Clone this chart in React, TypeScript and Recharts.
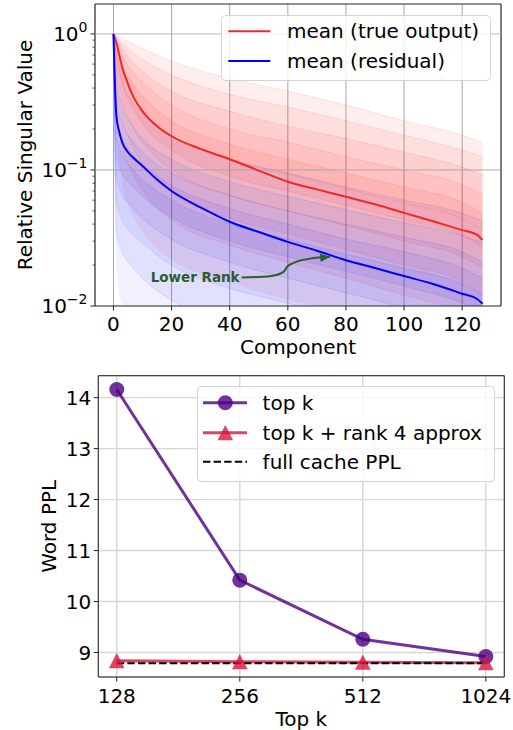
import {
  ComposedChart, Line, Area, XAxis, YAxis, CartesianGrid,
  ReferenceLine, ReferenceArea, Legend,
} from 'recharts'

// ---- top panel: relative singular values (log scale) ----
const components = [0, 1, 2, 3, 5, 7, 10, 15, 20, 30, 40, 50, 60, 70, 80, 90, 100, 110, 120, 125, 127]
const meanTrueOutput = [1, 0.86, 0.7, 0.57, 0.43, 0.34, 0.27, 0.21, 0.177, 0.143, 0.12, 0.099, 0.082, 0.072, 0.0636, 0.056, 0.0484, 0.042, 0.0361, 0.0335, 0.0305]
const meanResidual = [1, 0.25, 0.19, 0.16, 0.135, 0.122, 0.107, 0.085, 0.07, 0.053, 0.0416, 0.035, 0.0296, 0.0255, 0.0217, 0.019, 0.0166, 0.0145, 0.0123, 0.0113, 0.0104]

const sampleX = [0, 1, 3, 6, 10, 20, 40, 60, 80, 100, 120, 127]
const trueOutputSamples = [
  [1, 0.98, 0.93, 0.86, 0.78, 0.63, 0.47, 0.38, 0.3, 0.23, 0.18, 0.16],
  [1, 0.96, 0.86, 0.75, 0.65, 0.5, 0.36, 0.29, 0.23, 0.18, 0.14, 0.125],
  [1, 0.93, 0.78, 0.64, 0.53, 0.38, 0.27, 0.21, 0.17, 0.135, 0.105, 0.092],
  [1, 0.9, 0.7, 0.55, 0.44, 0.3, 0.2, 0.16, 0.125, 0.1, 0.078, 0.066],
  [1, 0.86, 0.6, 0.45, 0.35, 0.23, 0.155, 0.12, 0.095, 0.075, 0.058, 0.048],
  [1, 0.8, 0.52, 0.37, 0.28, 0.18, 0.12, 0.093, 0.073, 0.057, 0.044, 0.036],
  [1, 0.72, 0.43, 0.3, 0.22, 0.14, 0.09, 0.07, 0.055, 0.043, 0.033, 0.027],
  [1, 0.6, 0.33, 0.22, 0.16, 0.1, 0.065, 0.05, 0.039, 0.03, 0.023, 0.019],
  [1, 0.45, 0.24, 0.16, 0.11, 0.068, 0.044, 0.034, 0.026, 0.02, 0.015, 0.012],
  [1, 0.3, 0.15, 0.1, 0.07, 0.043, 0.028, 0.021, 0.016, 0.012, 0.009, 0.0075],
]
const residualSamples = [
  [1, 0.7, 0.45, 0.33, 0.26, 0.18, 0.12, 0.095, 0.075, 0.06, 0.048, 0.042],
  [1, 0.5, 0.3, 0.22, 0.17, 0.12, 0.082, 0.064, 0.051, 0.041, 0.033, 0.029],
  [1, 0.35, 0.22, 0.17, 0.135, 0.095, 0.065, 0.05, 0.04, 0.032, 0.025, 0.021],
  [1, 0.25, 0.17, 0.135, 0.11, 0.077, 0.052, 0.04, 0.031, 0.025, 0.019, 0.016],
  [1, 0.18, 0.13, 0.105, 0.085, 0.06, 0.04, 0.031, 0.024, 0.019, 0.0145, 0.012],
  [1, 0.13, 0.095, 0.078, 0.064, 0.045, 0.03, 0.023, 0.018, 0.014, 0.0105, 0.009],
  [1, 0.09, 0.066, 0.054, 0.044, 0.031, 0.021, 0.016, 0.0125, 0.0097, 0.0073, 0.006],
  [1, 0.06, 0.043, 0.035, 0.029, 0.02, 0.0135, 0.0105, 0.008, 0.0062, 0.0047, 0.0039],
  [1, 0.035, 0.025, 0.02, 0.016, 0.011, 0.0075, 0.0058, 0.0045, 0.0035, 0.0027, 0.0022],
]
// lower edges of the two bundles (both run off the bottom of the axes)
const trueOutputLow = [1, 0.2, 0.08, 0.05, 0.035, 0.022, 0.015, 0.011, 0.009, 0.007, 0.005, 0.004]
const residualLow = [1, 0.02, 0.01, 0.008, 0.006, 0.004, 0.003, 0.002, 0.002, 0.002, 0.002, 0.002]

// "Lower Rank" arrow path
const arrowX = [44.1, 53.9, 58.5, 59.7, 61.9, 67.7, 74.6]
const arrowY = [0.0162, 0.01656, 0.0178, 0.0194, 0.0207, 0.0223, 0.023]

// ---- bottom panel: word perplexity vs top k ----
const topKLabels = ['128', '256', '512', '1024']
const pplTopK = [14.16, 10.42, 9.26, 8.92]
const pplRank4 = [8.84, 8.82, 8.81, 8.8]
const pplFullCache = 8.79

const logTicks = [0.01, 0.02, 0.03, 0.04, 0.05, 0.06, 0.07, 0.08, 0.09, 0.1, 0.2, 0.3, 0.4, 0.5, 0.6, 0.7, 0.8, 0.9, 1]

// nested shading bands: outermost pair first, closing in toward the middle of each bundle
const trueBundle = [trueOutputLow, ...[...trueOutputSamples].reverse()]
const resBundle = [residualLow, ...[...residualSamples].reverse()]
const trueBands = trueOutputSamples.slice(0, 5).map((hi, k) => [trueBundle[k], hi])
const resBands = residualSamples.slice(0, 5).map((hi, k) => [resBundle[k], hi])

const allX = Array.from(new Set([...components, ...sampleX])).sort((a, b) => a - b)
const svRows = allX.map((x) => {
  const row: Record<string, any> = { x }
  const ci = components.indexOf(x)
  if (ci >= 0) {
    row.trueMean = meanTrueOutput[ci]
    row.resMean = meanResidual[ci]
  }
  const si = sampleX.indexOf(x)
  if (si >= 0) {
    trueOutputSamples.forEach((s, k) => { row[`t${k}`] = s[si] })
    residualSamples.forEach((s, k) => { row[`r${k}`] = s[si] })
    trueBands.forEach(([lo, hi], k) => { row[`tb${k}`] = [lo[si], hi[si]] })
    resBands.forEach(([lo, hi], k) => { row[`rb${k}`] = [lo[si], hi[si]] })
  }
  return row
})
const arrowRows = arrowX.map((x, i) => ({ x, arrow: arrowY[i] }))

const pplRows = topKLabels.map((_, i) => ({
  i, topk: pplTopK[i], rank4: pplRank4[i], full: pplFullCache,
}))

const INK = '#222'
const FONT = 20

function LogYTick(props: any) {
  const { x, y, payload } = props
  const lg = Math.log10(payload.value)
  const exp = Math.round(lg)
  const major = Math.abs(lg - exp) < 1e-6
  return (
    <g>
      <line x1={x - (major ? 4.5 : 2.6)} x2={x} y1={y} y2={y} stroke={INK} strokeWidth={major ? 1 : 0.7} />
      {major && (
        <text x={x - 7.5} y={y + 7} textAnchor="end" fontSize={FONT} fill="#000">
          10<tspan dy={-9} fontSize={14}>{exp === 0 ? '0' : '\u2212' + Math.abs(exp)}</tspan>
        </text>
      )}
    </g>
  )
}

function makeXTick(fmt: (v: number) => string, dy: number) {
  return (props: any) => {
    const { x, y, payload } = props
    return (
      <g>
        <line x1={x} x2={x} y1={y} y2={y + 4.5} stroke={INK} strokeWidth={1} />
        <text x={x} y={y + dy} textAnchor="middle" fontSize={FONT} fill="#000">{fmt(payload.value)}</text>
      </g>
    )
  }
}

function PlainYTick(props: any) {
  const { x, y, payload } = props
  return (
    <g>
      <line x1={x - 4.5} x2={x} y1={y} y2={y} stroke={INK} strokeWidth={1} />
      <text x={x - 7} y={y + 7.2} textAnchor="end" fontSize={FONT} fill="#000">{payload.value}</text>
    </g>
  )
}

const xLabel = (text: string, dy: number) => (props: any) => {
  const vb = props.viewBox
  return (
    <text x={vb.x + vb.width / 2} y={vb.y + dy} textAnchor="middle" fontSize={FONT} fill="#000">{text}</text>
  )
}
const yLabel = (text: string, bx: number) => (props: any) => {
  const vb = props.viewBox
  const cy = vb.y + vb.height / 2
  return (
    <text x={bx} y={cy} transform={`rotate(-90 ${bx} ${cy})`} textAnchor="middle" fontSize={FONT} fill="#000">{text}</text>
  )
}

function ArrowDot(props: any) {
  const { cx, cy, index } = props
  if (index === 0) {
    return (
      <text key="lbl" x={cx - 2} y={cy + 5} textAnchor="end" fontSize={13.5} fontWeight="bold" fill="#2e5c2e">Lower Rank</text>
    )
  }
  if (index === arrowX.length - 1) {
    return (
      <polygon key="head" points="0,0 -10,-4.2 -10,4.2" fill="#2e5c2e" transform={`translate(${cx},${cy}) rotate(-6)`} />
    )
  }
  return <g key={index} />
}

function TopLegendBox() {
  return (
    <svg width={270} height={66} style={{ display: 'block' }}>
      <rect x={0.5} y={0.5} width={269} height={65} rx={4} fill="#fff" fillOpacity={0.8} stroke="#d3d3d3" />
      <line x1={7.3} x2={49.3} y1={16.3} y2={16.3} stroke="#f02828" strokeWidth={2} />
      <text x={66} y={23.3} fontSize={FONT} fill="#000">mean (true output)</text>
      <line x1={7.3} x2={49.3} y1={46} y2={46} stroke="#0000ff" strokeWidth={2} />
      <text x={66} y={53} fontSize={FONT} fill="#000">mean (residual)</text>
    </svg>
  )
}

function BottomLegendBox() {
  return (
    <svg width={299} height={96} style={{ display: 'block' }}>
      <rect x={0.5} y={0.5} width={297} height={95} rx={4} fill="#fff" fillOpacity={0.8} stroke="#d3d3d3" />
      <line x1={6} x2={50} y1={16.7} y2={16.7} stroke="#4b0082" strokeOpacity={0.8} strokeWidth={3} />
      <circle cx={28.3} cy={16.7} r={7.5} fill="#4b0082" fillOpacity={0.8} />
      <text x={65.6} y={23.7} fontSize={FONT} fill="#000">top k</text>
      <line x1={6} x2={50} y1={46.7} y2={46.7} stroke="#dc143c" strokeOpacity={0.8} strokeWidth={3} />
      <polygon points={`28.3,39 20.5,54.2 36.1,54.2`} fill="#dc143c" fillOpacity={0.8} />
      <text x={65.6} y={53.7} fontSize={FONT} fill="#000">top k + rank 4 approx</text>
      <line x1={6} x2={50} y1={75.7} y2={75.7} stroke="#000" strokeWidth={2} strokeDasharray="7.4 3.2" />
      <text x={65.6} y={82.7} fontSize={FONT} fill="#000">full cache PPL</text>
    </svg>
  )
}

function CircleDot(props: any) {
  const { cx, cy, index } = props
  return <circle key={index} cx={cx} cy={cy} r={7.5} fill="#4b0082" fillOpacity={0.8} />
}
function TriangleDot(props: any) {
  const { cx, cy, index } = props
  return (
    <polygon key={index} points={`${cx},${cy - 7.6} ${cx - 7.8},${cy + 7.6} ${cx + 7.8},${cy + 7.6}`} fill="#dc143c" fillOpacity={0.8} />
  )
}

export default function App() {
  return (
    <div style={{ position: 'absolute', left: 0, top: 0, width: 513, height: 730, background: '#fff', fontFamily: '"DejaVu Sans", sans-serif' }}>
      <div style={{ position: 'absolute', left: 0, top: 0 }}>
        <ComposedChart width={513} height={365} data={svRows} margin={{ top: 4, right: 12, bottom: 0, left: 0 }}>
          <XAxis
            type="number" dataKey="x" domain={[-6.35, 133.35]} ticks={[0, 20, 40, 60, 80, 100, 120]}
            allowDataOverflow interval={0} height={59} axisLine={false} tickLine={false} tickSize={0} tickMargin={0}
            tick={makeXTick((v) => String(v), 25)} label={{ content: xLabel('Component', 48) }}
          />
          <YAxis
            type="number" scale="log" domain={[0.01, 1.66]} ticks={logTicks} allowDataOverflow interval={0}
            width={95} axisLine={false} tickLine={false} tickSize={0} tickMargin={0}
            tick={<LogYTick />} label={{ content: yLabel('Relative Singular Value', 32) }}
          />
          {trueBands.map((_, k) => (
            <Area key={`tb${k}`} dataKey={`tb${k}`} type="monotone" connectNulls stroke="none" fill="#ff0000" fillOpacity={0.065} isAnimationActive={false} />
          ))}
          {resBands.map((_, k) => (
            <Area key={`rb${k}`} dataKey={`rb${k}`} type="monotone" connectNulls stroke="none" fill="#0000ff" fillOpacity={0.06} isAnimationActive={false} />
          ))}
          {trueOutputSamples.map((_, k) => (
            <Line key={`t${k}`} dataKey={`t${k}`} type="monotone" connectNulls stroke="#ff0000" strokeOpacity={0.14} strokeWidth={0.7} dot={false} isAnimationActive={false} />
          ))}
          {residualSamples.map((_, k) => (
            <Line key={`r${k}`} dataKey={`r${k}`} type="monotone" connectNulls stroke="#0000ff" strokeOpacity={0.14} strokeWidth={0.7} dot={false} isAnimationActive={false} />
          ))}
          <CartesianGrid horizontal={false} stroke="#a8a8a8" strokeWidth={1} />
          <ReferenceLine y={1} stroke="#b4b4b4" strokeWidth={1} />
          <ReferenceLine y={0.1} stroke="#a8a8a8" strokeWidth={1} />
          <Line dataKey="trueMean" type="monotone" connectNulls stroke="#f02828" strokeWidth={2} dot={false} isAnimationActive={false} />
          <Line dataKey="resMean" type="monotone" connectNulls stroke="#0000ff" strokeWidth={2} dot={false} isAnimationActive={false} />
          <Line data={arrowRows} dataKey="arrow" type="monotone" stroke="#2e5c2e" strokeWidth={2} dot={<ArrowDot />} isAnimationActive={false} />
          <ReferenceArea x1={-6.35} x2={133.35} y1={0.01} y2={1.66} fill="none" stroke={INK} strokeWidth={1} ifOverflow="visible" />
          <Legend
            layout="horizontal" verticalAlign="middle" align="center" content={() => <TopLegendBox />}
            wrapperStyle={{ position: 'absolute', left: 220.5, top: 14.5, width: 270, height: 66 }}
          />
        </ComposedChart>
      </div>
      <div style={{ position: 'absolute', left: 0, top: 365 }}>
        <ComposedChart width={513} height={365} data={pplRows} margin={{ top: 10.7, right: 8.7, bottom: 0, left: 0 }}>
          <CartesianGrid stroke="#d6d6d6" strokeWidth={1.4} />
          <XAxis
            type="number" dataKey="i" domain={[-0.15, 3.15]} ticks={[0, 1, 2, 3]} allowDataOverflow interval={0}
            height={53} axisLine={false} tickLine={false} tickSize={0} tickMargin={0}
            tick={makeXTick((v) => topKLabels[v], 26)} label={{ content: xLabel('Top k', 49) }}
          />
          <YAxis
            type="number" domain={[8.52, 14.43]} ticks={[9, 10, 11, 12, 13, 14]} allowDataOverflow interval={0}
            width={98.3} axisLine={false} tickLine={false} tickSize={0} tickMargin={0}
            tick={<PlainYTick />} label={{ content: yLabel('Word PPL', 56.5) }}
          />
          <Line dataKey="topk" stroke="#4b0082" strokeOpacity={0.8} strokeWidth={3} dot={<CircleDot />} isAnimationActive={false} />
          <Line dataKey="rank4" stroke="#dc143c" strokeOpacity={0.8} strokeWidth={3} dot={<TriangleDot />} isAnimationActive={false} />
          <Line dataKey="full" stroke="#000" strokeWidth={2} strokeDasharray="7.4 3.2" dot={false} isAnimationActive={false} />
          <ReferenceArea x1={-0.15} x2={3.15} y1={8.52} y2={14.43} fill="none" stroke={INK} strokeWidth={1} ifOverflow="visible" />
          <Legend
            layout="horizontal" verticalAlign="middle" align="center" content={() => <BottomLegendBox />}
            wrapperStyle={{ position: 'absolute', left: 196.5, top: 20.5, width: 299, height: 96 }}
          />
        </ComposedChart>
      </div>
    </div>
  )
}
